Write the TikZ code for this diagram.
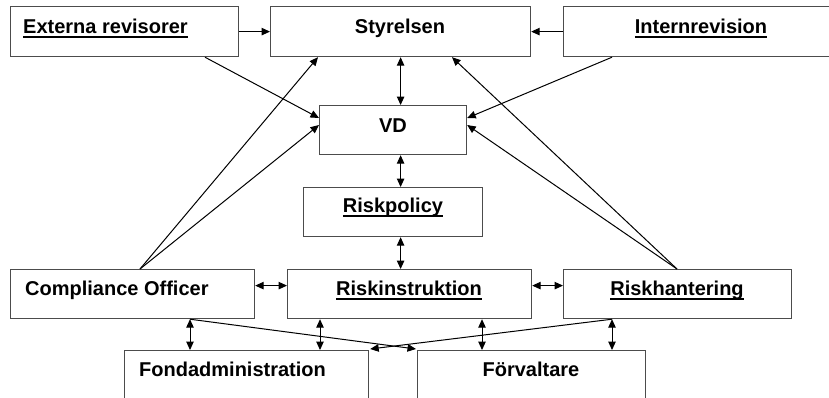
\documentclass[tikz,border=0pt]{standalone}
\usepackage{fontspec}
\setmainfont{Liberation Sans}
\usetikzlibrary{arrows.meta,calc}
\newcommand\uln[1]{\setbox0\hbox{#1}\rlap{\rule[-4.5pt]{\wd0}{1.8pt}}\box0}
\begin{document}
\begin{tikzpicture}[x=1pt,y=-1pt,
  box/.style={draw=black!70, line width=1.2pt, rectangle, inner sep=0pt, anchor=north west},
  lbl/.style={inner sep=0pt, font=\fontsize{20}{23}\bfseries\selectfont},
  con/.style={line width=1pt, -{Triangle[length=8.5pt,width=7.5pt]}},
  dcon/.style={line width=1pt, {Triangle[length=8.5pt,width=7.5pt]}-{Triangle[length=8.5pt,width=7.5pt]}}]
\useasboundingbox (0,0) rectangle (829,397);
\clip (0,0) rectangle (829,397);
\fill[white] (0,0) rectangle (829,397);
% boxes
\node[box, minimum width=228pt, minimum height=50pt] (ext) at (10,6) {};
\node[box, minimum width=260pt, minimum height=50pt] (sty) at (270,6) {};
\node[box, minimum width=276pt, minimum height=50pt] (int) at (563,6) {};
\node[box, minimum width=147pt, minimum height=49pt] (vd) at (319,105) {};
\node[box, minimum width=179pt, minimum height=49pt] (rp) at (303,187) {};
\node[box, minimum width=244pt, minimum height=49pt] (co) at (10,269) {};
\node[box, minimum width=244pt, minimum height=49pt] (ri) at (287,269) {};
\node[box, minimum width=228pt, minimum height=49pt] (rh) at (563,269) {};
\node[box, minimum width=244pt, minimum height=80pt] (fa) at (124,350) {};
\node[box, minimum width=228pt, minimum height=80pt] (fv) at (417,350) {};
% labels
\node[lbl, anchor=base west] (t1) at (23,33) {\uln{Externa revisorer}};
\node[lbl, anchor=base] (t2) at (400,33) {Styrelsen};
\node[lbl, anchor=base] (t3) at (701,33) {\uln{Internrevision}};
\node[lbl, anchor=base] (t4) at (393,132) {VD};
\node[lbl, anchor=base] (t5) at (393,212) {\uln{Riskpolicy}};
\node[lbl, anchor=base west] (t6) at (25,295) {Compliance Officer};
\node[lbl, anchor=base] (t7) at (409,295) {\uln{Riskinstruktion}};
\node[lbl, anchor=base] (t8) at (677,295) {\uln{Riskhantering}};
\node[lbl, anchor=base west] (t9) at (139,376) {Fondadministration};
\node[lbl, anchor=base] (t10) at (531,376) {Förvaltare};
% helper points on node borders
\coordinate (vdL1) at ($(vd.north west)+(0,13)$);
\coordinate (vdL2) at ($(vd.north west)+(0,20)$);
\coordinate (vdR1) at ($(vd.north east)+(0,13)$);
\coordinate (vdR2) at ($(vd.north east)+(0,20)$);
\coordinate (extB) at ($(ext.south west)+(195,0)$);
\coordinate (intB) at ($(int.south west)+(49,0)$);
\coordinate (styL) at ($(sty.south west)+(48,0)$);
\coordinate (styR) at ($(sty.south west)+(182,0)$);
\coordinate (coT) at ($(co.north west)+(130,0)$);
\coordinate (rhT) at ($(rh.north west)+(114,0)$);
\coordinate (coB) at ($(co.south west)+(180,0)$);
\coordinate (riB1) at ($(ri.south west)+(33,0)$);
\coordinate (riB2) at ($(ri.south west)+(195,0)$);
\coordinate (rhB) at ($(rh.south west)+(49,0)$);
\coordinate (coE) at ($(co.east)+(0,-8.5)$);
\coordinate (riW) at ($(ri.west)+(0,-8.5)$);
\coordinate (riE) at ($(ri.east)+(0,-8.5)$);
\coordinate (rhW) at ($(rh.west)+(0,-8.5)$);
% connectors
\draw[con] (ext.east) -- (sty.west);
\draw[con] (int.west) -- (sty.east);
\draw[dcon] (sty.south) -- (sty.south |- vd.north);
\draw[dcon] (sty.south |- vd.south) -- (sty.south |- rp.north);
\draw[dcon] (sty.south |- rp.south) -- (sty.south |- ri.north);
\draw[con] (extB) -- (vdL1);
\draw[con] (coT) -- (styL);
\draw[con] (coT) -- (vdL2);
\draw[con] (intB) -- (vdR1);
\draw[con] (rhT) -- (styR);
\draw[con] (rhT) -- (vdR2);
\draw[dcon] (coE) -- (riW);
\draw[dcon] (riE) -- (rhW);
\draw[dcon] (coB) -- (coB |- fa.north);
\draw[dcon] (riB1) -- (riB1 |- fa.north);
\draw[dcon] (riB2) -- (riB2 |- fv.north);
\draw[dcon] (rhB) -- (rhB |- fv.north);
\draw[con] (coB) -- ($(fv.north west)+(-1,-1)$);
\draw[con] (rhB) -- ($(fa.north east)+(1,-1)$);
\end{tikzpicture}
\end{document}
